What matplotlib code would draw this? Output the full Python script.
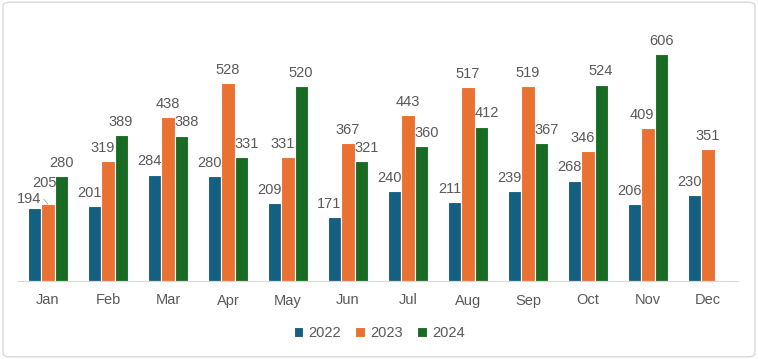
import matplotlib.pyplot as plt
import numpy as np
from matplotlib.patches import FancyBboxPatch

months = ["Jan", "Feb", "Mar", "Apr", "May", "Jun", "Jul", "Aug", "Sep", "Oct", "Nov", "Dec"]
y2022 = [194, 201, 284, 280, 209, 171, 240, 211, 239, 268, 206, 230]
y2023 = [205, 319, 438, 528, 331, 367, 443, 517, 519, 346, 409, 351]
y2024 = [280, 389, 388, 331, 520, 321, 360, 412, 367, 524, 606, None]

series = [("2022", y2022, "#156082"), ("2023", y2023, "#E97132"), ("2024", y2024, "#196B24")]
text_color = "#595959"
fs = 10.5

plt.rcParams["font.family"] = ["Liberation Sans", "DejaVu Sans"]

fig = plt.figure(figsize=(7.58, 3.59), dpi=100)
fig.patches.append(FancyBboxPatch((0.004, 0.006), 0.992, 0.988, boxstyle="round,pad=0,rounding_size=0.01",
                                  transform=fig.transFigure, facecolor="white", edgecolor="#d9d9d9",
                                  lw=1, zorder=-10))
ax = fig.add_axes([18 / 758, 1 - 281 / 359, 720 / 758, 262.5 / 359])
ax.patch.set_alpha(0)

x = np.arange(len(months))
w = 0.217
allvals = [s[1] for s in series]
for i, (name, vals, color) in enumerate(series):
    idx = [j for j, v in enumerate(vals) if v is not None]
    xs = [x[j] + (i - 1) * w for j in idx]
    vs = [vals[j] for j in idx]
    bars = ax.bar(xs, vs, width=w, color=color, edgecolor="white", linewidth=0.8, label=name)
    for j, b, v in zip(idx, bars, vs):
        left = allvals[i - 1][j] if i > 0 else None
        right = allvals[i + 1][j] if i < 2 else None
        # Excel pushes a label aside when a neighbouring bar is taller
        if right is not None and right > v:
            px, ha = b.get_x() + b.get_width(), "right"
        elif left is not None and left > v:
            px, ha = b.get_x(), "left"
        else:
            px, ha = b.get_x() + b.get_width() / 2, "center"
        dx, dy = 0, 6.5
        if name == "2023" and j == 0:
            dx, dy = 1.5, 12.5
            ax.annotate("", (b.get_x() + b.get_width() / 2, v), xytext=(-3, 3.5), textcoords="offset points",
                        arrowprops=dict(arrowstyle="-", color="#a6a6a6", lw=0.6, shrinkA=0, shrinkB=0))
        if name == "2022" and j == 0:
            dy = 4
        ax.annotate(str(v), (px, v), xytext=(dx, dy), textcoords="offset points",
                    ha=ha, va="baseline", fontsize=fs, color=text_color)

ax.set_xlim(-0.5, 11.5)
ax.set_ylim(0, 700)
ax.set_xticks(x)
ax.set_xticklabels(months, fontsize=fs, color=text_color)
ax.tick_params(axis="x", length=0, pad=9)
ax.set_yticks([])
for s in ["top", "right", "left"]:
    ax.spines[s].set_visible(False)
ax.spines["bottom"].set_color("#d9d9d9")

ax.legend(loc="upper center", bbox_to_anchor=(0.5, 1 - 331 / 359 + 0.05), bbox_transform=fig.transFigure,
          ncol=3, frameon=False, fontsize=fs, handlelength=0.65, handleheight=0.65, columnspacing=1.0,
          handletextpad=0.35, labelcolor=text_color)

fig.savefig("out.png", dpi=100)
